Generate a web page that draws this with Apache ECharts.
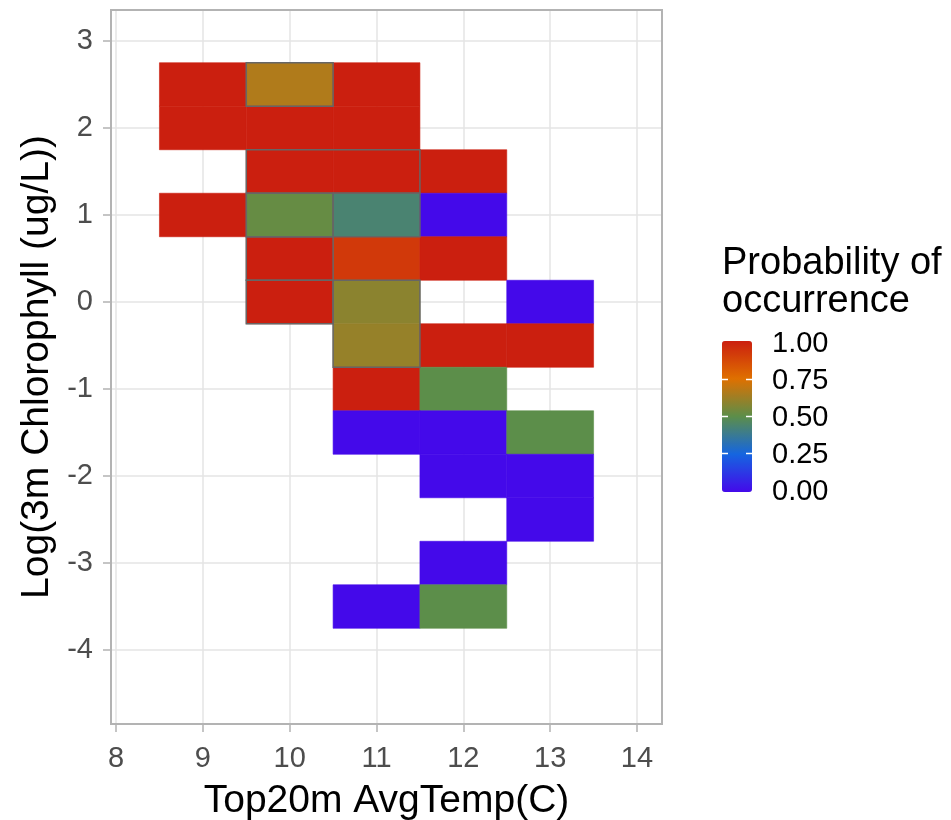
<!DOCTYPE html>
<html><head><meta charset="utf-8">
<script src="https://cdn.jsdelivr.net/npm/echarts@6/dist/echarts.min.js"></script>
<style>html,body{margin:0;padding:0;background:#fff}#c{width:951px;height:820px}</style>
</head><body><div id="c"></div>
<script>
// Tile centres (temperature, log chlorophyll) and probability of occurrence
const tempX = [9, 10, 11, 9, 10, 11, 10, 11, 12, 9, 10, 11, 12, 10, 11, 12, 10, 11, 13, 11, 12, 13, 11, 12, 11, 12, 13, 12, 13, 13, 12, 11, 12];
const chlY  = [2.5, 2.5, 2.5, 2, 2, 2, 1.5, 1.5, 1.5, 1, 1, 1, 1, 0.5, 0.5, 0.5, 0, 0, 0, -0.5, -0.5, -0.5, -1, -1, -1.5, -1.5, -1.5, -2, -2, -2.5, -3, -3.5, -3.5];
const prob  = [1, 0.66, 1, 1, 1, 1, 1, 1, 1, 1, 0.52, 0.435, 0, 1, 0.92, 1, 1, 0.59, 0, 0.61, 1, 1, 1, 0.5, 0, 0, 0.5, 0, 0, 0, 0, 0, 0.5];
// Grey outlined blocks (data-space extents)
const boxX0 = [9.5, 9.5, 9.5, 10.5, 9.5, 9.5, 10.5];
const boxX1 = [10.5, 11.5, 10.5, 11.5, 10.5, 10.5, 11.5];
const boxY0 = [2.25, 1.25, 0.75, 0.75, 0.25, -0.25, -0.75];
const boxY1 = [2.75, 1.75, 1.25, 1.25, 0.75, 0.25, 0.25];
const xTicks = [8, 9, 10, 11, 12, 13, 14];
const yTicks = [-4, -3, -2, -1, 0, 1, 2, 3];
const legendValues = [0, 0.25, 0.5, 0.75, 1];
const legendLabels = ['0.00', '0.25', '0.50', '0.75', '1.00'];
const scaleColors = ['#4409EA', '#1565E0', '#5C8E4A', '#DF7000', '#CB1F0F'];

const FONT = '"Liberation Sans", Arial, sans-serif';
const tiles = tempX.map((x, i) => [x, chlY[i], prob[i]]);
const boxes = boxX0.map((x, i) => [x, boxY0[i], boxX1[i], boxY1[i]]);

const barTop = 341, barH = 151, barLeft = 722, barW = 30;
const graphics = [];
legendValues.forEach((v, i) => {
  const y = barTop + barH - v * (barH - 3) - 1.5;
  graphics.push({type: 'text', left: 772, top: y - 13, style: {text: legendLabels[i], font: '29px ' + FONT, fill: '#000'}});
  if (v > 0 && v < 1) {
    graphics.push({type: 'line', shape: {x1: barLeft, y1: y, x2: barLeft + 6, y2: y}, style: {stroke: '#fff', lineWidth: 1.5}, z: 100});
    graphics.push({type: 'line', shape: {x1: barLeft + barW - 6, y1: y, x2: barLeft + barW, y2: y}, style: {stroke: '#fff', lineWidth: 1.5}, z: 100});
  }
});
graphics.push({type: 'text', left: 722, top: 245, style: {text: 'Probability of', font: '38px ' + FONT, fill: '#000'}});
graphics.push({type: 'text', left: 722, top: 283, style: {text: 'occurrence', font: '38px ' + FONT, fill: '#000'}});

const chart = echarts.init(document.getElementById('c'), null, {renderer: 'canvas'});
chart.setOption({
  animation: false,
  backgroundColor: '#fff',
  grid: {left: 111, right: 289, top: 10, bottom: 96, outerBoundsMode: 'none', containLabel: false, show: true, borderColor: '#B3B3B3', borderWidth: 2, backgroundColor: 'transparent', z: 10},
  xAxis: {
    type: 'value', min: 7.942, max: 14.288,
    name: 'Top20m AvgTemp(C)', nameLocation: 'middle', nameGap: 58,
    nameTextStyle: {fontFamily: FONT, fontSize: 39, color: '#000'},
    axisLine: {show: false, onZero: false},
    axisTick: {show: true, length: 8, customValues: xTicks, lineStyle: {color: '#B3B3B3', width: 1.5}},
    axisLabel: {customValues: xTicks, fontFamily: FONT, fontSize: 29, color: '#4D4D4D', margin: 20},
    splitLine: {show: true, lineStyle: {color: '#E5E5E5', width: 1.5}}
  },
  yAxis: {
    type: 'value', min: -4.85, max: 3.356,
    name: 'Log(3m Chlorophyll (ug/L))', nameLocation: 'middle', nameGap: 52, nameRotate: 90,
    nameTextStyle: {fontFamily: FONT, fontSize: 39, color: '#000'},
    axisLine: {show: false, onZero: false},
    axisTick: {show: true, length: 8, customValues: yTicks, lineStyle: {color: '#B3B3B3', width: 1.5}},
    axisLabel: {customValues: yTicks, fontFamily: FONT, fontSize: 29, color: '#4D4D4D', margin: 18},
    splitLine: {show: true, lineStyle: {color: '#E5E5E5', width: 1.5}}
  },
  visualMap: {
    type: 'continuous', min: 0, max: 1, dimension: 2, seriesIndex: 0,
    left: barLeft, top: barTop, itemWidth: barW, itemHeight: barH, padding: 0,
    calculable: false, hoverLink: false,
    inRange: {color: scaleColors}
  },
  graphic: graphics,
  series: [
    {
      type: 'custom', data: tiles, encode: {x: 0, y: 1}, z: 2,
      renderItem(params, api) {
        const x = api.value(0), y = api.value(1);
        const p1 = api.coord([x - 0.5, y + 0.25]);
        const p2 = api.coord([x + 0.5, y - 0.25]);
        const c = api.visual('color');
        return {type: 'rect', shape: {x: p1[0], y: p1[1], width: p2[0] - p1[0], height: p2[1] - p1[1]}, style: {fill: c, stroke: c, lineWidth: 0.6}};
      }
    },
    {
      type: 'custom', data: boxes, encode: {x: [0, 2], y: [1, 3]}, z: 3,
      renderItem(params, api) {
        const p1 = api.coord([api.value(0), api.value(3)]);
        const p2 = api.coord([api.value(2), api.value(1)]);
        return {type: 'rect', shape: {x: p1[0], y: p1[1], width: p2[0] - p1[0], height: p2[1] - p1[1]}, style: {fill: 'none', stroke: '#666666', lineWidth: 1.5}};
      }
    }
  ]
});
</script>
</body></html>
